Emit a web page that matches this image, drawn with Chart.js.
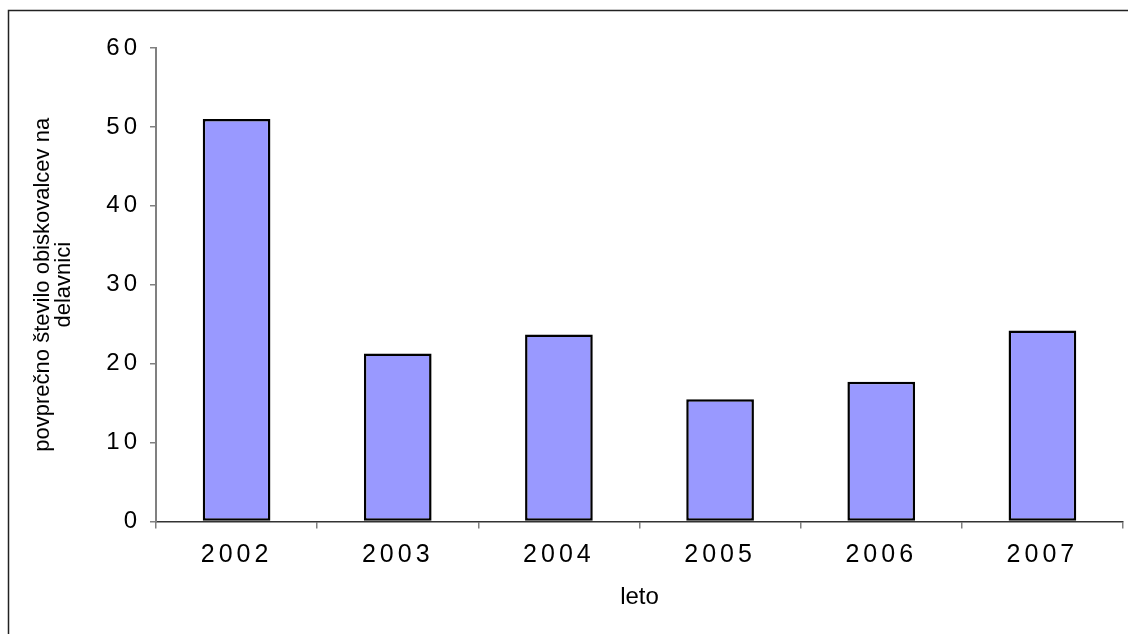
<!DOCTYPE html>
<html>
<head>
<meta charset="utf-8">
<script src="https://cdn.jsdelivr.net/npm/chart.js@4.4.1/dist/chart.umd.min.js"></script>
<style>
  html, body { margin: 0; padding: 0; background: #fff; }
  #wrap { width: 1128px; height: 634px; }
</style>
</head>
<body>
<div id="wrap"><canvas id="myChart" width="1128" height="634"></canvas></div>
<script>
// data
const years = ['2002', '2003', '2004', '2005', '2006', '2007'];
const visitors = [51, 21.3, 23.7, 15.5, 17.7, 24.2];
const yTitle = ['povprečno število obiskovalcev na', 'delavnici'];
const xTitle = 'leto';

const fontFamily = '"Liberation Sans", Arial, sans-serif';

// outer frame + white background
const frame = {
    id: 'frame',
    beforeDraw: (chart) => {
        const ctx = chart.ctx;
        ctx.save();
        ctx.fillStyle = '#fff';
        ctx.fillRect(0, 0, chart.width, chart.height);
        ctx.strokeStyle = '#222';
        ctx.lineWidth = 1.5;
        ctx.strokeRect(8.5, 10.5, 1400, 800);
        ctx.restore();
    }
};

// tick labels in the reference are letter spaced
const spacedTicks = {
    id: 'spacedTicks',
    afterDatasetsDraw: (chart) => { chart.ctx.letterSpacing = '4px'; },
    afterDraw: (chart) => { chart.ctx.letterSpacing = '0px'; }
};

const ctx = document.getElementById('myChart').getContext('2d');
new Chart(ctx, {
    type: 'bar',
    data: {
        labels: years,
        datasets: [{
            data: visitors,
            backgroundColor: '#9999ff',
            borderColor: '#000',
            borderWidth: 2.5,
            borderSkipped: false,
            barPercentage: 0.42,
            categoryPercentage: 1
        }]
    },
    options: {
        responsive: false,
        animation: false,
        events: [],
        layout: { padding: { top: 48, right: 5, left: 0, bottom: 0 } },
        plugins: {
            legend: { display: false },
            tooltip: { enabled: false }
        },
        scales: {
            x: {
                afterFit: (scale) => { scale.height = 112.5; },
                grid: { display: true, drawOnChartArea: false, drawTicks: true, tickLength: 7, color: '#808080', lineWidth: 1.5 },
                border: { color: '#333', width: 1.5 },
                ticks: { z: 1, color: '#000', padding: 12, font: { family: fontFamily, size: 25 } },
                title: {
                    display: true, text: xTitle, color: '#000',
                    font: { family: fontFamily, size: 24 },
                    padding: { top: 0, bottom: 22 }
                }
            },
            y: {
                min: 0,
                max: 60,
                afterFit: (scale) => { scale.width = 156; },
                grid: { display: true, drawOnChartArea: false, drawTicks: true, tickLength: 6, color: '#808080', lineWidth: 1.5 },
                border: { color: '#808080', width: 2 },
                ticks: { z: 1, stepSize: 10, color: '#000', padding: 9, font: { family: fontFamily, size: 24 } },
                title: {
                    display: true, text: yTitle, color: '#000',
                    font: { family: fontFamily, size: 22, lineHeight: '21px' },
                    padding: { top: 32, bottom: 0 }
                }
            }
        }
    },
    plugins: [frame, spacedTicks]
});
</script>
</body>
</html>
